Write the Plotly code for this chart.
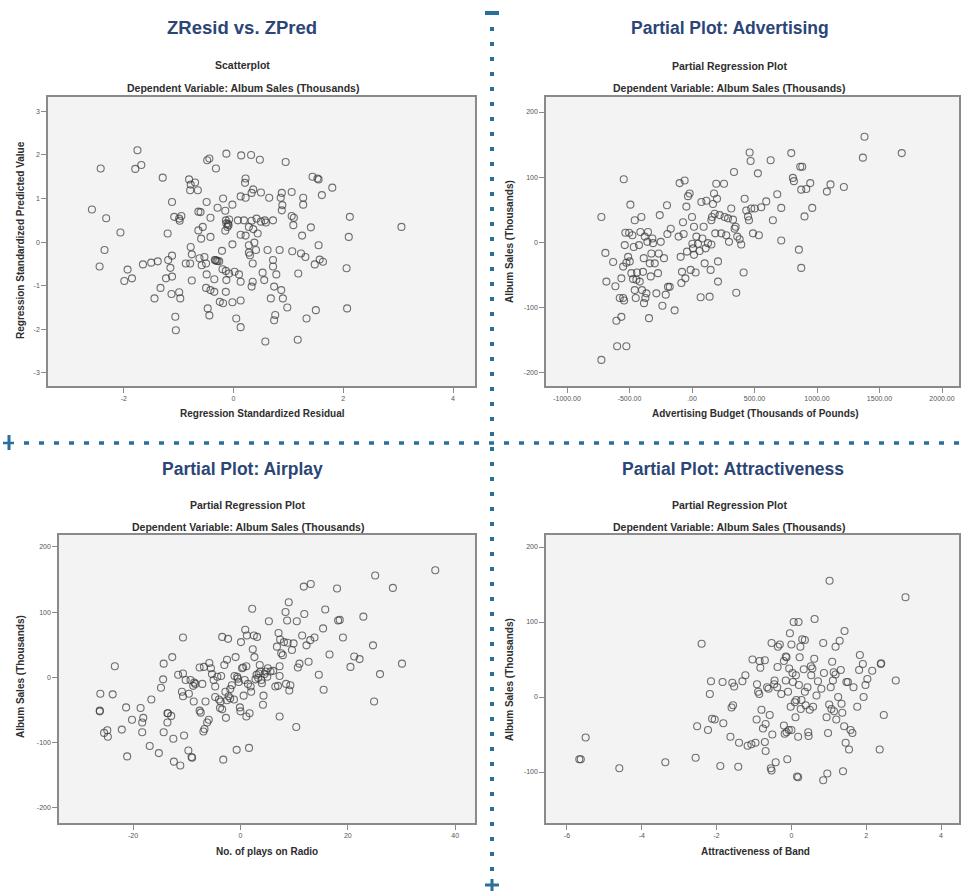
import plotly.graph_objects as go

W, H = 961, 892

# ---- ZResid vs. ZPred -------------------------------------------------------
zresid = [
    -2.58, -2.42, -2.32, -2.35, -2.44, -2.06, -1.93, -1.99, -1.85, -1.75,
    -1.79, -1.68, -1.65, -1.50, -1.38, -1.29, -1.44, -1.33, -1.23, -1.20,
    -1.19, -1.12, -1.12, -1.15, -1.12, -1.13, -1.08, -0.99, -0.95, -0.98,
    -0.99, -0.97, -1.06, -1.05, -0.87, -0.81, -0.78, -0.79, -0.70, -0.65,
    -0.78, -0.76, -0.79, -0.76, -0.64, -0.60, -0.64, -0.56, -0.59, -0.62,
    -0.58, -0.53, -0.49, -0.48, -0.44, -0.50, -0.49, -0.50, -0.47, -0.44,
    -0.42, -0.42, -0.42, -0.35, -0.35, -0.32, -0.33, -0.29, -0.29, -0.26,
    -0.25, -0.21, -0.20, -0.19, -0.19, -0.15, -0.14, -0.13, -0.13, -0.14,
    -0.11, -0.08, -0.09, -0.15, -0.08, -0.13, -0.14, -0.02, -0.02, -0.02,
    0.02, 0.05, 0.08, 0.10, 0.13, 0.14, 0.13, 0.13, 0.13, 0.13,
    0.19, 0.21, 0.22, 0.22, 0.22, 0.28, 0.28, 0.28, 0.30, 0.32,
    0.33, 0.33, 0.33, 0.35, 0.35, 0.36, 0.36, 0.38, 0.41, 0.42,
    0.44, 0.48, 0.50, 0.50, 0.53, 0.56, 0.57, 0.58, 0.59, 0.62,
    0.65, 0.68, 0.72, 0.72, 0.72, 0.74, 0.76, 0.74, 0.78, 0.84,
    0.86, 0.88, 0.89, 0.88, 0.87, 0.90, 0.95, 0.98, 1.06, 1.06,
    1.07, 1.10, 1.09, 1.17, 1.18, 1.23, 1.25, 1.27, 1.27, 1.31,
    1.33, 1.41, 1.44, 1.50, 1.48, 1.53, 1.55, 1.55, 1.57, 1.61,
    1.63, 1.80, 2.06, 2.07, 2.10, 2.12, 3.06,
    -0.34, -0.31, -0.10,
]
zpred = [
    0.75, 1.69, 0.55, -0.18, -0.56, 0.22, -0.63, -0.89, -0.83, 2.11,
    1.68, 1.77, -0.51, -0.47, -0.44, 1.48, -1.29, -1.05, -0.83, 0.20,
    -0.41, 0.92, -0.31, -0.59, -0.79, -1.19, 0.58, 0.54, 0.60, 0.49,
    -1.15, -1.29, -1.71, -2.02, -0.49, 1.44, 1.32, 1.19, 1.37, 1.19,
    -0.11, -0.28, -0.49, -0.88, 0.70, 0.69, 0.27, 0.35, 0.08, -0.37,
    -0.53, -0.34, 0.92, 1.88, 1.92, -0.49, -0.74, -1.05, -1.52, -1.68,
    0.56, 0.12, -1.10, -1.14, -0.85, 1.69, -0.41, 0.79, -0.43, -0.44,
    -1.37, -0.20, -0.62, 1.00, -1.40, 0.72, -0.66, 2.03, 0.43, 0.50,
    0.35, 0.52, 0.39, 0.26, -0.72, -0.87, -1.14, -0.05, 0.86, -1.38,
    -0.68, -1.75, 0.50, -0.74, -1.34, 1.99, -1.95, 1.05, 0.17, -0.91,
    0.50, 1.36, 1.46, 1.02, 0.15, 0.35, -0.07, -0.24, -0.30, 2.00,
    1.13, 0.49, -1.02, -0.91, -0.49, 1.21, 0.30, -0.01, -0.18, 0.54,
    0.20, 1.89, 1.14, 0.47, -0.70, -0.87, 0.50, -2.28, 0.45, -0.18,
    1.02, -1.29, 0.50, -0.41, -0.56, -1.02, -1.67, -1.79, -0.74, -0.18,
    1.02, 1.13, 0.85, 0.73, -1.10, -1.29, 1.84, -1.50, 1.15, 0.60,
    -0.21, 0.56, 0.39, -2.24, -0.72, -0.26, 0.15, 1.02, 0.86, -0.34,
    -1.75, 0.34, 1.50, -1.56, -0.51, 1.46, 1.44, -0.07, -0.40, 1.08,
    -0.45, 1.25, -0.60, -1.52, 0.12, 0.58, 0.35,
    -0.41, -0.43, 0.42,
]

# ---- Partial plot: Advertising ---------------------------------------------
adverts = [
    -725, -693, -685, -725, -631, -613, -605, -599, -565, -578,
    -551, -543, -565, -551, -525, -546, -538, -533, -525, -511,
    -503, -498, -493, -485, -477, -472, -466, -458, -458, -450,
    -445, -440, -424, -418, -413, -405, -400, -392, -386, -384,
    -378, -373, -365, -357, -352, -344, -338, -330, -325, -317,
    -312, -298, -285, -272, -266, -258, -250, -237, -224, -210,
    -200, -192, -197, -178, -170, -139, -107, -99, -91, -85,
    -80, -72, -67, -59, -53, -45, -40, -32, -19, -11,
    0, 3, 8, 16, 16, 29, 35, 48, 61, 69,
    75, 83, 93, 101, 109, 115, 128, 141, 149, 155,
    155, 160, 168, 176, 181, 186, 194, 200, 208, 208,
    221, 234, 256, 261, 274, 288, 296, 314, 328, 336,
    341, 349, 354, 362, 381, 394, 413, 421, 434, 448,
    456, 461, 469, 474, 488, 501, 527, 535, 554, 594,
    629, 647, 682, 714, 714, 794, 807, 815, 855, 866,
    874, 874, 882, 900, 914, 946, 962, 1079, 1108, 1215,
    1367, 1380, 1678,
]
sales_adverts = [
    39, -16, -60, -180, -30, -67, -120, -159, -114, -85,
    -85, -89, -55, -37, -159, 97, -4, 15, -31, -22,
    15, -29, 58, -47, 11, -56, -7, 34, -73, -85,
    -57, -46, -4, -60, 16, 39, -73, -45, -24, -93,
    9, -85, -78, 1, 16, -116, -32, -52, -17, 6,
    -1, -32, -78, -47, -17, 42, 1, -97, -24, -80,
    57, -68, 13, -68, 21, -104, 9, 91, -22, -62,
    -45, 31, 13, 95, -55, 55, -14, 71, 75, -42,
    39, -2, -9, 24, -19, -46, 9, -2, -13, -84,
    62, 6, 24, -32, -9, 64, -1, -83, -42, -3,
    34, 39, 59, 75, 44, 14, 90, 67, -29, -60,
    42, 14, 90, 39, 11, 37, 1, 52, 35, 108,
    21, 24, -77, 9, 5, -3, -46, 67, 49, 40,
    34, 138, 125, 52, 14, 52, 106, 11, 54, 63,
    126, 34, 74, 53, 3, 137, 99, 94, -11, 116,
    -39, 81, 116, 40, 82, 91, 53, 78, 89, 85,
    130, 162, 137,
]

# ---- Partial plot: Airplay -------------------------------------------------
airplay = [
    -26.2, -26.1, -26.2, -25.4, -24.8, -24.7, -23.8, -23.4, -22.1, -21.3,
    -21.1, -20.2, -18.6, -18.3, -18.3, -18.1, -16.9, -16.6, -15.2, -14.8,
    -14.4, -14.3, -14.3, -13.6, -13.6, -13.5, -12.9, -12.7, -12.5, -12.4,
    -11.6, -11.2, -10.9, -10.7, -10.7, -10.7, -10.5, -10.2, -9.7, -9.6,
    -9.3, -9.1, -9.0, -8.8, -8.7, -8.6, -8.4, -7.6, -7.4, -7.1,
    -6.9, -6.7, -6.5, -6.2, -5.9, -7.6, -6.8, -5.8, -5.5, -5.3,
    -5.0, -4.7, -4.7, -4.3, -4.0, -3.8, -3.7, -3.6, -3.4, -3.4,
    -3.2, -3.0, -2.8, -2.7, -2.5, -2.5, -2.3, -2.2, -1.9, -1.9,
    -1.6, -1.2, -1.1, -0.9, -0.7, -0.6, -0.5, -0.3, -0.1, 0.0,
    0.1, 0.3, 0.5, 0.6, 0.8, 0.9, 1.1, 1.1, 1.2, 1.4,
    1.6, 1.7, 1.9, 2.0, 2.2, 2.3, 2.5, 2.6, 2.8, 3.0,
    3.1, 3.3, 3.4, 3.6, 3.7, 3.9, 4.0, 4.2, 4.3, 4.5,
    4.7, 5.0, 5.1, 5.3, 5.6, 6.1, 6.5, 6.8, 7.0, 7.1,
    7.3, 7.3, 7.3, 7.4, 7.6, 7.9, 8.1, 8.4, 8.5, 8.7,
    8.8, 9.0, 9.1, 9.3, 9.6, 9.9, 10.4, 10.5, 10.7, 11.0,
    11.5, 11.8, 11.9, 12.3, 12.7, 13.0, 13.1, 13.8, 14.6, 15.4,
    15.5, 15.8, 16.6, 18.0, 18.2, 18.5, 19.1, 20.5, 21.2, 22.2,
    22.9, 24.7, 24.9, 25.1, 26.0, 28.4, 30.1, 36.3,
]
sales_airplay = [
    -51, -25, -52, -85, -81, -91, -26, 17, -80, -46,
    -121, -65, -47, -69, -84, -62, -105, -34, -116, -16,
    -3, 21, -84, -55, -69, -55, -59, 31, -94, -129,
    4, -135, -22, 61, 6, -29, -89, -4, -112, -25,
    -4, -122, -123, -13, -37, -8, -10, -51, -54, -10,
    -83, -79, -37, -69, -65, 15, 16, 22, 14, 5,
    -4, -14, -30, 1, -34, -47, -37, 2, 62, -49,
    -126, 19, -22, -62, 27, -35, 59, -29, -18, -32,
    -12, -34, 2, 31, -111, 1, -2, -7, -46, -52,
    54, 14, 15, -28, -4, 73, -60, 17, 64, -10,
    -108, -55, -14, -22, 105, 43, 64, 31, -3, 4,
    62, -1, 6, 19, 9, -4, -9, -42, -28, 5,
    9, 1, 14, 86, 9, 10, -14, 47, -13, 68,
    2, -60, 17, 58, 37, 34, 54, 100, -10, 87,
    53, 115, -20, -12, 42, 52, -76, 86, 15, 21,
    64, 139, 97, 49, 24, 57, 143, 61, 4, 75,
    -19, 104, 35, 136, 87, 88, 61, 16, 32, 28,
    93, 49, -37, 156, 5, 137, 21, 164,
]

# ---- Partial plot: Attractiveness ------------------------------------------
attract = [
    -5.67, -5.63, -5.50, -4.60, -3.37, -2.56, -2.52, -2.40, -2.23, -2.18,
    -2.15, -2.12, -2.05, -1.90, -1.84, -1.82, -1.63, -1.60, -1.58, -1.56,
    -1.53, -1.42, -1.40, -1.31, -1.23, -1.17, -1.07, -1.04, -0.96, -0.93,
    -0.92, -0.89, -0.86, -0.85, -0.83, -0.80, -0.76, -0.71, -0.71, -0.69,
    -0.69, -0.65, -0.61, -0.58, -0.55, -0.53, -0.53, -0.51, -0.46, -0.45,
    -0.42, -0.38, -0.37, -0.36, -0.31, -0.27, -0.20, -0.20, -0.18, -0.15,
    -0.15, -0.13, -0.13, -0.11, -0.09, -0.07, -0.06, -0.04, -0.02, 0.00,
    0.00, 0.03, 0.04, 0.06, 0.09, 0.11, 0.12, 0.13, 0.15, 0.18,
    0.18, 0.19, 0.20, 0.22, 0.24, 0.25, 0.27, 0.29, 0.33, 0.36,
    0.36, 0.38, 0.43, 0.45, 0.46, 0.49, 0.52, 0.53, 0.56, 0.58,
    0.61, 0.62, 0.67, 0.71, 0.80, 0.85, 0.85, 0.87, 0.94, 0.96,
    0.98, 1.01, 1.02, 1.05, 1.07, 1.09, 1.11, 1.13, 1.14, 1.18,
    1.18, 1.20, 1.25, 1.29, 1.32, 1.34, 1.36, 1.38, 1.41, 1.42,
    1.45, 1.47, 1.51, 1.54, 1.58, 1.63, 1.66, 1.76, 1.81, 1.83,
    1.91, 1.93, 1.98, 2.03, 2.16, 2.36, 2.39, 2.40, 2.47, 2.79,
    3.05,
]
sales_attract = [
    -83, -83, -54, -95, -87, -81, -39, 71, -44, 4,
    21, -29, -30, -92, 20, -35, -53, -14, 19, -11,
    14, -93, -61, 21, 29, -65, -63, 50, -61, -30,
    17, 7, 4, 48, 39, -17, -42, 49, -60, -72,
    -36, 13, 11, -24, -95, 72, -98, -50, 17, 22,
    -87, 13, 40, 67, 70, 4, 48, -38, -49, 54,
    22, 53, -47, -83, 7, -44, 38, 85, -13, 70,
    -44, 32, 20, 100, -7, -27, 29, -4, -106, -107,
    -53, 100, 16, 53, 67, -16, -4, 77, 37, 7,
    76, -11, 13, -47, -52, -17, 41, 29, 38, -13,
    51, 104, 2, 21, 11, -111, 72, 32, -27, -102,
    -48, -10, 155, 13, -16, 47, 22, 33, -19, 67,
    30, -30, 0, 75, 36, -9, -21, -99, -39, 88,
    -61, 20, 20, -70, -44, -48, 13, -13, 36, 56,
    44, 0, 16, 24, 35, -70, 44, 45, -24, 22,
    133,
]

# ---- tick labels -------------------------------------------------------------
z_ticks = [-3, -2, -1, 0, 1, 2, 3]
z_ticktext = ["-3", "-2", "-1", "0", "1", "2", "3"]
resid_ticks = [-2, 0, 2, 4]
resid_ticktext = ["-2", "0", "2", "4"]
advert_ticks = [-1000, -500, 0, 500, 1000, 1500, 2000]
advert_ticktext = ["-1000.00", "-500.00", ".00", "500.00", "1000.00", "1500.00", "2000.00"]
sales_ticks = [-200, -100, 0, 100, 200]
sales_ticktext = ["-200", "-100", "0", "100", "200"]
air_ticks = [-20, 0, 20, 40]
air_ticktext = ["-20", "0", "20", "40"]
attr_ticks = [-6, -4, -2, 0, 2, 4]
attr_ticktext = ["-6", "-4", "-2", "0", "2", "4"]
attr_sales_ticks = [-100, 0, 100, 200]
attr_sales_ticktext = ["-100", "0", "100", "200"]


def px(x):
    return x / W


def py(y):
    return 1 - y / H


FONT = "Liberation Sans, Arial, sans-serif"
HEAD_COLOR = "#2b4676"
TEXT_COLOR = "#2e2e2e"
DOT_COLOR = "#2a6e9c"

marker = dict(
    symbol="circle",
    size=7,
    color="rgba(0,0,0,0)",
    line=dict(color="rgba(60,60,60,0.72)", width=1.1),
)

fig = go.Figure()
panels = [
    (zresid, zpred, "x", "y"),
    (adverts, sales_adverts, "x2", "y2"),
    (airplay, sales_airplay, "x3", "y3"),
    (attract, sales_attract, "x4", "y4"),
]
for xs, ys, xa, ya in panels:
    fig.add_trace(go.Scatter(x=xs, y=ys, mode="markers", marker=marker,
                             xaxis=xa, yaxis=ya, showlegend=False,
                             hoverinfo="skip"))

axis_common = dict(
    showgrid=False, zeroline=False, showline=True, mirror=True,
    linecolor="#8a8a8a", linewidth=1.5,
    ticks="outside", ticklen=5, tickcolor="#8a8a8a", tickwidth=1,
    tickfont=dict(family=FONT, size=7, color="#555555"),
    tickmode="array",
)

# plot frames in pixels: left, right, top, bottom
frames = {
    1: (48, 475, 97, 386),
    2: (546, 959, 97, 386),
    3: (59, 475, 535, 823),
    4: (546, 959, 535, 823),
}

def dom_x(k):
    l, r, t, b = frames[k]
    return [px(l), px(r)]


def dom_y(k):
    l, r, t, b = frames[k]
    return [py(b), py(t)]


fig.update_layout(
    width=W, height=H,
    margin=dict(l=0, r=0, t=0, b=0),
    paper_bgcolor="white",
    plot_bgcolor="#f3f3f3",
    font=dict(family=FONT, color=TEXT_COLOR),
    xaxis=dict(axis_common, domain=dom_x(1), range=[-3.38, 4.4],
               tickvals=resid_ticks, ticktext=resid_ticktext, anchor="y"),
    yaxis=dict(axis_common, domain=dom_y(1), range=[-3.3, 3.33],
               tickvals=z_ticks, ticktext=z_ticktext, anchor="x"),
    xaxis2=dict(axis_common, domain=dom_x(2), range=[-1168, 2136],
                tickvals=advert_ticks, ticktext=advert_ticktext, anchor="y2"),
    yaxis2=dict(axis_common, domain=dom_y(2), range=[-220, 223],
                tickvals=sales_ticks, ticktext=sales_ticktext, anchor="x2"),
    xaxis3=dict(axis_common, domain=dom_x(3), range=[-33.8, 43.7],
                tickvals=air_ticks, ticktext=air_ticktext, anchor="y3"),
    yaxis3=dict(axis_common, domain=dom_y(3), range=[-223, 218],
                tickvals=sales_ticks, ticktext=sales_ticktext, anchor="x3"),
    xaxis4=dict(axis_common, domain=dom_x(4), range=[-6.56, 4.48],
                tickvals=attr_ticks, ticktext=attr_ticktext, anchor="y4"),
    yaxis4=dict(axis_common, domain=dom_y(4), range=[-168, 216],
                tickvals=attr_sales_ticks, ticktext=attr_sales_ticktext, anchor="x4"),
)

annotations = []


def text(s, x, y, size, color, bold=True, angle=0):
    annotations.append(dict(
        text=f"<b>{s}</b>" if bold else s,
        x=px(x), y=py(y), xref="paper", yref="paper",
        xanchor="center", yanchor="middle", showarrow=False,
        textangle=angle,
        font=dict(family=FONT, size=size, color=color),
    ))


# headings
text("ZResid vs. ZPred", 242, 28, 18.5, HEAD_COLOR)
text("Partial Plot: Advertising", 730, 28, 17.5, HEAD_COLOR)
text("Partial Plot: Airplay", 242, 469, 17.5, HEAD_COLOR)
text("Partial Plot: Attractiveness", 733, 469, 17.5, HEAD_COLOR)

# chart titles
text("Scatterplot", 242, 65, 10.5, TEXT_COLOR)
text("Dependent Variable: Album Sales (Thousands)", 243, 88, 10.5, TEXT_COLOR)
text("Partial Regression Plot", 729, 66, 10.5, TEXT_COLOR)
text("Dependent Variable: Album Sales (Thousands)", 729, 88, 10.5, TEXT_COLOR)
text("Partial Regression Plot", 247, 505, 10.5, TEXT_COLOR)
text("Dependent Variable: Album Sales (Thousands)", 248, 527, 10.5, TEXT_COLOR)
text("Partial Regression Plot", 729, 505, 10.5, TEXT_COLOR)
text("Dependent Variable: Album Sales (Thousands)", 729, 527, 10.5, TEXT_COLOR)

# axis titles
text("Regression Standardized Residual", 262, 413, 10, TEXT_COLOR)
text("Regression Standardized Predicted Value", 20, 240, 10, TEXT_COLOR, angle=-90)
text("Advertising Budget (Thousands of Pounds)", 755, 413, 10, TEXT_COLOR)
text("Album Sales (Thousands)", 509, 242, 10, TEXT_COLOR, angle=-90)
text("No. of plays on Radio", 267, 851, 10, TEXT_COLOR)
text("Album Sales (Thousands)", 20, 677, 10, TEXT_COLOR, angle=-90)
text("Attractiveness of Band", 755, 851, 10, TEXT_COLOR)
text("Album Sales (Thousands)", 509, 680, 10, TEXT_COLOR, angle=-90)

fig.update_layout(annotations=annotations)

# dotted dividers between the four panels
shapes = [
    dict(type="line", xref="paper", yref="paper",
         x0=px(492), x1=px(492), y0=py(27), y1=py(876),
         line=dict(color=DOT_COLOR, width=4, dash="4px,11px")),
    dict(type="line", xref="paper", yref="paper",
         x0=px(24), x1=px(961), y0=py(443), y1=py(443),
         line=dict(color=DOT_COLOR, width=3.5, dash="5px,10px")),
    # end caps
    dict(type="line", xref="paper", yref="paper",
         x0=px(485), x1=px(499), y0=py(13), y1=py(13),
         line=dict(color=DOT_COLOR, width=4)),
    dict(type="line", xref="paper", yref="paper",
         x0=px(485), x1=px(499), y0=py(885), y1=py(885),
         line=dict(color=DOT_COLOR, width=3)),
    dict(type="line", xref="paper", yref="paper",
         x0=px(492), x1=px(492), y0=py(879), y1=py(891),
         line=dict(color=DOT_COLOR, width=3)),
    dict(type="line", xref="paper", yref="paper",
         x0=px(9), x1=px(9), y0=py(435), y1=py(450),
         line=dict(color=DOT_COLOR, width=3)),
    dict(type="line", xref="paper", yref="paper",
         x0=px(3), x1=px(14), y0=py(443), y1=py(443),
         line=dict(color=DOT_COLOR, width=2.5)),
]
fig.update_layout(shapes=shapes)

fig.write_html("out.html")
